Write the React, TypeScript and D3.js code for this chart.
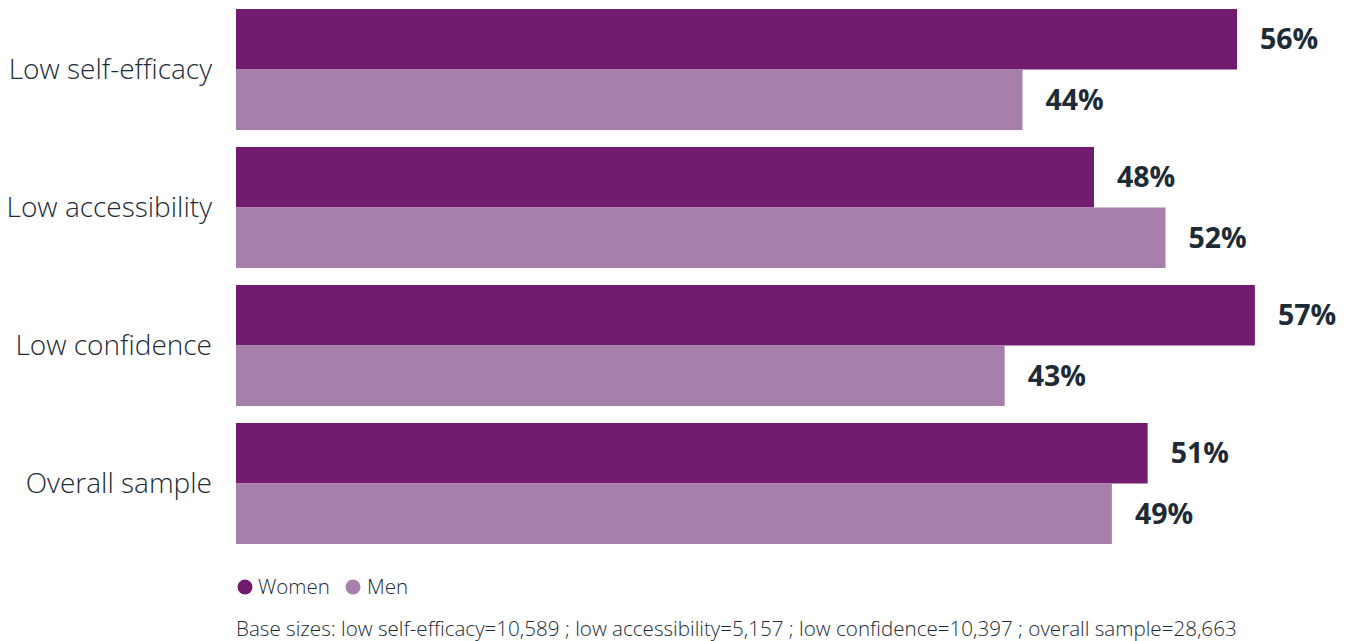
import * as d3 from "d3";

const categories = ["Low self-efficacy", "Low accessibility", "Low confidence", "Overall sample"];
const women = [56, 48, 57, 51];
const men = [44, 52, 43, 49];
const seriesNames = ["Women", "Men"];
const seriesColors = ["#721c70", "#a680ab"];
const footnote =
  "Base sizes: low self-efficacy=10,589 ; low accessibility=5,157 ; low confidence=10,397 ; overall sample=28,663";

const W = 1354;
const H = 641;
const textColor = "#1d2b36";
const font = "'Open Sans', sans-serif";

export default function App() {
  const left = 236;
  const x = d3.scaleLinear().domain([0, 56]).range([left, 1237]);
  const y = d3.scaleBand<string>().domain(categories).range([9, 544]).paddingInner(17 / 138).paddingOuter(0);
  const inner = d3.scaleBand<string>().domain(seriesNames).range([0, y.bandwidth()]);
  const values = [women, men];

  return (
    <svg width={W} height={H} style={{ position: "absolute", left: 0, top: 0 }} fontFamily={font}>
      {categories.map((c, i) => (
        <g key={c}>
          <text
            x={212}
            y={(y(c) ?? 0) + y.bandwidth() / 2}
            dy="0.35em"
            textAnchor="end"
            fontSize={28}
            fontWeight={300}
            fill={textColor}
          >
            {c}
          </text>
          {seriesNames.map((s, j) => {
            const v = values[j][i];
            const by = (y(c) ?? 0) + (inner(s) ?? 0);
            return (
              <g key={s}>
                <rect x={x(0)} y={by} width={x(v) - x(0)} height={inner.bandwidth()} fill={seriesColors[j]} />
                <text
                  x={x(v) + 23}
                  y={by + inner.bandwidth() / 2}
                  dy="0.35em"
                  fontSize={28.5}
                  fontWeight={700}
                  fill={textColor}
                >
                  {v}%
                </text>
              </g>
            );
          })}
        </g>
      ))}
      <g transform="translate(236,587)">
        <circle cx={9} cy={0} r={7.5} fill={seriesColors[0]} />
        <text x={22} y={0} dy="0.35em" fontSize={20.5} fontWeight={300} fill={textColor}>
          {seriesNames[0]}
        </text>
        <circle cx={117} cy={0} r={7.5} fill={seriesColors[1]} />
        <text x={131} y={0} dy="0.35em" fontSize={20.5} fontWeight={300} fill={textColor}>
          {seriesNames[1]}
        </text>
      </g>
      <text x={236} y={636} fontSize={20.6} fontWeight={300} fill={textColor}>
        {footnote}
      </text>
    </svg>
  );
}
